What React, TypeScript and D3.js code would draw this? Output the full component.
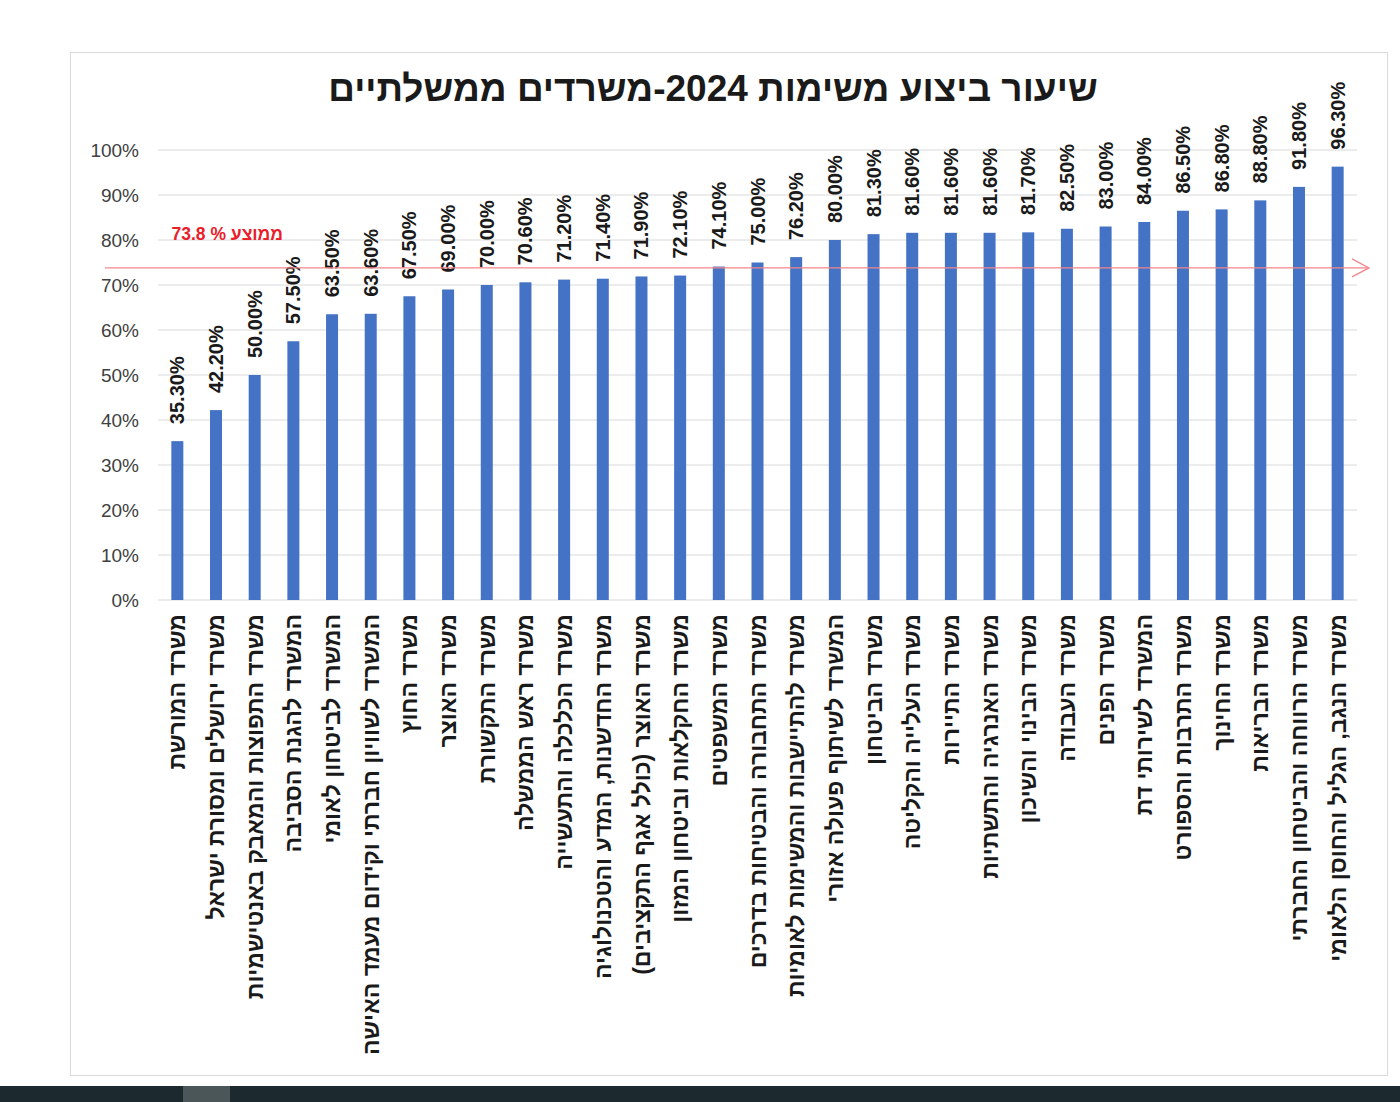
import * as d3 from "d3";

const title = "שיעור ביצוע משימות 2024-משרדים ממשלתיים";
const averageLabel = "ממוצע % 73.8";
const average = 73.8;

const ministries = [
  "משרד המורשת",
  "משרד ירושלים ומסורת ישראל",
  "משרד התפוצות והמאבק באנטישמיות",
  "המשרד להגנת הסביבה",
  "המשרד לביטחון לאומי",
  "המשרד לשוויון חברתי וקידום מעמד האישה",
  "משרד החוץ",
  "משרד האוצר",
  "משרד התקשורת",
  "משרד ראש הממשלה",
  "משרד הכלכלה והתעשייה",
  "משרד החדשנות, המדע והטכנולוגיה",
  "משרד האוצר (כולל אגף התקציבים)",
  "משרד החקלאות וביטחון המזון",
  "משרד המשפטים",
  "משרד התחבורה והבטיחות בדרכים",
  "משרד להתיישבות והמשימות לאומיות",
  "המשרד לשיתוף פעולה אזורי",
  "משרד הביטחון",
  "משרד העלייה והקליטה",
  "משרד התיירות",
  "משרד האנרגיה והתשתיות",
  "משרד הבינוי והשיכון",
  "משרד העבודה",
  "משרד הפנים",
  "המשרד לשירותי דת",
  "משרד התרבות והספורט",
  "משרד החינוך",
  "משרד הבריאות",
  "משרד הרווחה והביטחון החברתי",
  "משרד הנגב, הגליל והחוסן הלאומי",
];

const rates = [
  35.3, 42.2, 50.0, 57.5, 63.5, 63.6, 67.5, 69.0, 70.0, 70.6, 71.2, 71.4, 71.9,
  72.1, 74.1, 75.0, 76.2, 80.0, 81.3, 81.6, 81.6, 81.6, 81.7, 82.5, 83.0, 84.0,
  86.5, 86.8, 88.8, 91.8, 96.3,
];

const yTicks = [0, 10, 20, 30, 40, 50, 60, 70, 80, 90, 100];

const W = 1400;
const H = 1102;
const plot = { left: 158, right: 1357, top: 150, bottom: 600 };

const hebrew = "'Liberation Sans', Arial, sans-serif";

export default function App() {
  const x = d3
    .scaleBand<string>()
    .domain(ministries)
    .range([plot.left, plot.right]);
  const y = d3.scaleLinear().domain([0, 100]).range([plot.bottom, plot.top]);
  const barW = 12;
  const avgY = y(average);

  return (
    <svg
      width={W}
      height={H}
      style={{ position: "absolute", left: 0, top: 0, background: "#fff" }}
    >
      {/* chart frame */}
      <rect x={70.5} y={52.5} width={1317} height={1023} fill="#fff" stroke="#d9d9d9" />

      <text
        x={713}
        y={101}
        textAnchor="middle"
        direction="rtl"
        fontFamily={hebrew}
        fontWeight="bold"
        fontSize={37}
        fill="#1a1a1a"
      >
        {title}
      </text>

      {/* gridlines + y labels */}
      {yTicks.map((t) => (
        <g key={t}>
          <line
            x1={plot.left}
            x2={plot.right}
            y1={y(t)}
            y2={y(t)}
            stroke="#d9d9d9"
            strokeWidth={1}
          />
          <text
            x={139}
            y={y(t)}
            dy="0.35em"
            textAnchor="end"
            fontFamily={hebrew}
            fontSize={19}
            fill="#404040"
          >
            {t}%
          </text>
        </g>
      ))}

      {/* bars */}
      {ministries.map((m, i) => {
        const cx = (x(m) ?? 0) + x.bandwidth() / 2;
        return (
          <g key={m}>
            <rect
              x={cx - barW / 2}
              y={y(rates[i])}
              width={barW}
              height={plot.bottom - y(rates[i])}
              fill="#4472c4"
            />
            <text
              transform={`translate(${cx},${y(rates[i]) - 17}) rotate(-90)`}
              dy="0.35em"
              textAnchor="start"
              fontFamily={hebrew}
              fontWeight="bold"
              fontSize={20}
              fill="#1a1a1a"
            >
              {rates[i].toFixed(2)}%
            </text>
            <text
              transform={`translate(${cx},${plot.bottom + 14}) rotate(-90)`}
              dy="0.35em"
              textAnchor="start"
              direction="rtl"
              fontFamily={hebrew}
              fontWeight="bold"
              fontSize={23}
              fill="#1a1a1a"
            >
              {m}
            </text>
          </g>
        );
      })}

      {/* average line */}
      <line x1={105} x2={1369} y1={avgY} y2={avgY} stroke="#f4868b" strokeWidth={1.3} />
      <path
        d={`M1352,${avgY - 9}L1369,${avgY}L1352,${avgY + 9}`}
        fill="none"
        stroke="#f4868b"
        strokeWidth={1.3}
      />
      <text
        x={283}
        y={234}
        dy="0.35em"
        textAnchor="start"
        direction="rtl"
        fontFamily={hebrew}
        fontWeight="bold"
        fontSize={17.5}
        fill="#e8202a"
      >
        {averageLabel}
      </text>

      {/* page strip at the bottom */}
      <rect x={0} y={1086} width={W} height={16} fill="#1c2a30" />
      <rect x={183} y={1086} width={47} height={16} fill="#4b5658" />
    </svg>
  );
}
